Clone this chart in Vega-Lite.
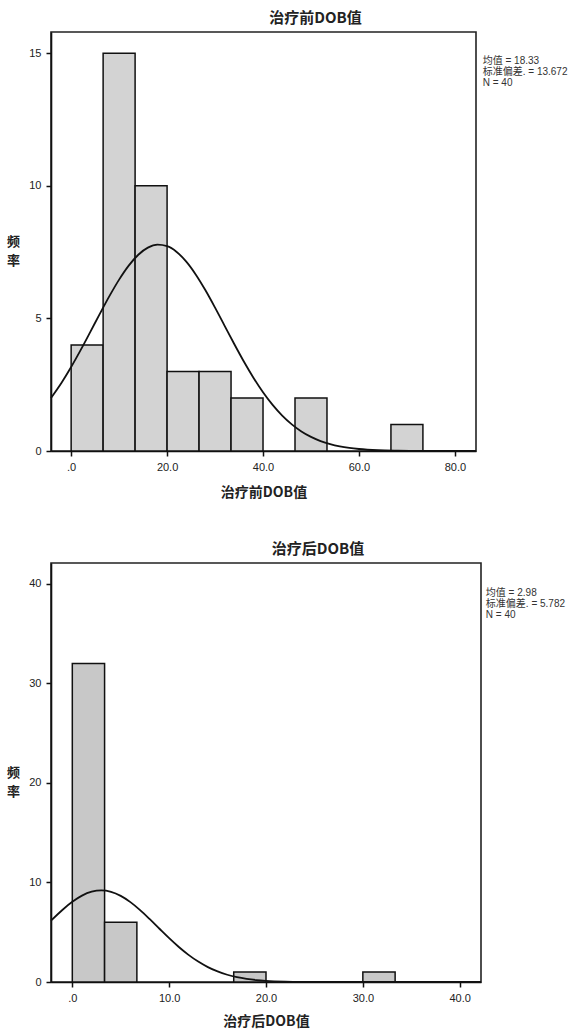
{
  "$schema": "https://vega.github.io/schema/vega-lite/v6.json",
  "background": "white",
  "padding": {"left": 5, "top": 10, "right": 0, "bottom": 0},
  "spacing": 41,
  "datasets": {
    "bars1": [
      {"bin_start": 0, "bin_end": 6.667, "count": 4},
      {"bin_start": 6.667, "bin_end": 13.333, "count": 15},
      {"bin_start": 13.333, "bin_end": 20, "count": 10},
      {"bin_start": 20, "bin_end": 26.667, "count": 3},
      {"bin_start": 26.667, "bin_end": 33.333, "count": 3},
      {"bin_start": 33.333, "bin_end": 40, "count": 2},
      {"bin_start": 46.667, "bin_end": 53.333, "count": 2},
      {"bin_start": 66.667, "bin_end": 73.333, "count": 1}
    ],
    "curve1": [
      {"x": -4.2, "y": 2.001}, {"x": -2, "y": 2.576}, {"x": 0, "y": 3.168}, {"x": 2, "y": 3.813},
      {"x": 4, "y": 4.493}, {"x": 6, "y": 5.181}, {"x": 8, "y": 5.849}, {"x": 10, "y": 6.463},
      {"x": 12, "y": 6.99}, {"x": 14, "y": 7.401}, {"x": 16, "y": 7.669}, {"x": 18, "y": 7.779},
      {"x": 20, "y": 7.723}, {"x": 22, "y": 7.506}, {"x": 24, "y": 7.14}, {"x": 26, "y": 6.648},
      {"x": 28, "y": 6.059}, {"x": 30, "y": 5.405}, {"x": 32, "y": 4.72}, {"x": 34, "y": 4.034},
      {"x": 36, "y": 3.375}, {"x": 38, "y": 2.765}, {"x": 40, "y": 2.216}, {"x": 42, "y": 1.738},
      {"x": 44, "y": 1.335}, {"x": 46, "y": 1.004}, {"x": 48, "y": 0.738}, {"x": 50, "y": 0.532},
      {"x": 52, "y": 0.375}, {"x": 54, "y": 0.259}, {"x": 56, "y": 0.175}, {"x": 58, "y": 0.116},
      {"x": 60, "y": 0.075}, {"x": 64, "y": 0.029}, {"x": 68, "y": 0.011}, {"x": 72, "y": 0.003},
      {"x": 76, "y": 0.001}, {"x": 80, "y": 0.0002}, {"x": 84.4, "y": 0}
    ],
    "stats1": [{"label": "均值 = 18.33\n标准偏差. = 13.672\nN = 40"}],
    "bars2": [
      {"bin_start": 0, "bin_end": 3.333, "count": 32},
      {"bin_start": 3.333, "bin_end": 6.667, "count": 6},
      {"bin_start": 16.667, "bin_end": 20, "count": 1},
      {"bin_start": 30, "bin_end": 33.333, "count": 1}
    ],
    "curve2": [
      {"x": -2.2, "y": 6.16}, {"x": -1, "y": 7.26}, {"x": 0, "y": 8.055}, {"x": 1, "y": 8.676},
      {"x": 2, "y": 9.069}, {"x": 3, "y": 9.2}, {"x": 4, "y": 9.058}, {"x": 5, "y": 8.655},
      {"x": 6, "y": 8.027}, {"x": 7, "y": 7.225}, {"x": 8, "y": 6.311}, {"x": 9, "y": 5.351},
      {"x": 10, "y": 4.403}, {"x": 11, "y": 3.516}, {"x": 12, "y": 2.725}, {"x": 13, "y": 2.05},
      {"x": 14, "y": 1.496}, {"x": 15, "y": 1.06}, {"x": 16, "y": 0.729}, {"x": 17, "y": 0.486},
      {"x": 18, "y": 0.315}, {"x": 19, "y": 0.198}, {"x": 20, "y": 0.121}, {"x": 22, "y": 0.041},
      {"x": 24, "y": 0.012}, {"x": 26, "y": 0.003}, {"x": 30, "y": 0.0001}, {"x": 35, "y": 0},
      {"x": 42.2, "y": 0}
    ],
    "stats2": [{"label": "均值 = 2.98\n标准偏差. = 5.782\nN = 40"}]
  },
  "vconcat": [
    {
      "width": 425,
      "height": 419,
      "title": {"text": "治疗前DOB值", "dx": 52, "offset": 6},
      "layer": [
        {
          "data": {"name": "bars1"},
          "mark": {"type": "rect", "fill": "#d3d3d3", "stroke": "#111", "strokeWidth": 1.5},
          "encoding": {
            "x": {"field": "bin_start", "type": "quantitative",
              "scale": {"domain": [-4.2, 84.4], "nice": false, "zero": false},
              "axis": {"values": [0, 20, 40, 60, 80], "labelExpr": "datum.value === 0 ? '.0' : format(datum.value, '.1f')", "title": "治疗前DOB值", "titlePadding": 13}},
            "x2": {"field": "bin_end"},
            "y": {"field": "count", "type": "quantitative",
              "scale": {"domain": [0, 15.8], "nice": false},
              "axis": {"values": [0, 5, 10, 15], "title": ["频", "率"], "titleAngle": 0, "titleAlign": "center", "titleBaseline": "middle", "titleX": -38, "titleY": 209, "titleFontSize": 13, "titleLineHeight": 19}},
            "y2": {"datum": 0}
          }
        },
        {
          "data": {"name": "curve1"},
          "mark": {"type": "line", "color": "#111", "strokeWidth": 1.8, "interpolate": "monotone"},
          "encoding": {
            "x": {"field": "x", "type": "quantitative"},
            "y": {"field": "y", "type": "quantitative"}
          }
        },
        {
          "data": {"name": "stats1"},
          "mark": {"type": "text", "align": "left", "baseline": "top", "lineBreak": "\n", "fontSize": 10, "lineHeight": 11, "font": "Liberation Sans, Noto Sans CJK SC", "color": "#333"},
          "encoding": {
            "x": {"datum": 85.8, "type": "quantitative"},
            "y": {"datum": 14.9, "type": "quantitative"},
            "text": {"field": "label"}
          }
        }
      ]
    },
    {
      "width": 430,
      "height": 419,
      "title": {"text": "治疗后DOB值", "dx": 52, "offset": 6},
      "layer": [
        {
          "data": {"name": "bars2"},
          "mark": {"type": "rect", "fill": "#c8c8c8", "stroke": "#111", "strokeWidth": 1.5},
          "encoding": {
            "x": {"field": "bin_start", "type": "quantitative",
              "scale": {"domain": [-2.2, 42.2], "nice": false, "zero": false},
              "axis": {"values": [0, 10, 20, 30, 40], "labelExpr": "datum.value === 0 ? '.0' : format(datum.value, '.1f')", "title": "治疗后DOB值", "titlePadding": 11}},
            "x2": {"field": "bin_end"},
            "y": {"field": "count", "type": "quantitative",
              "scale": {"domain": [0, 42.1], "nice": false},
              "axis": {"values": [0, 10, 20, 30, 40], "title": ["频", "率"], "titleAngle": 0, "titleAlign": "center", "titleBaseline": "middle", "titleX": -38, "titleY": 209, "titleFontSize": 13, "titleLineHeight": 19}},
            "y2": {"datum": 0}
          }
        },
        {
          "data": {"name": "curve2"},
          "mark": {"type": "line", "color": "#111", "strokeWidth": 1.8, "interpolate": "monotone"},
          "encoding": {
            "x": {"field": "x", "type": "quantitative"},
            "y": {"field": "y", "type": "quantitative"}
          }
        },
        {
          "data": {"name": "stats2"},
          "mark": {"type": "text", "align": "left", "baseline": "top", "lineBreak": "\n", "fontSize": 10, "lineHeight": 11, "font": "Liberation Sans, Noto Sans CJK SC", "color": "#333"},
          "encoding": {
            "x": {"datum": 42.7, "type": "quantitative"},
            "y": {"datum": 39.6, "type": "quantitative"},
            "text": {"field": "label"}
          }
        }
      ]
    }
  ],
  "config": {
    "view": {"stroke": "#222", "strokeWidth": 1.6},
    "axis": {"grid": false, "domainColor": "#111", "domainWidth": 1.6, "tickColor": "#111", "tickWidth": 1.5, "tickSize": 5, "labelFont": "Liberation Sans", "labelFontSize": 11, "labelColor": "#222", "labelPadding": 5, "titleFont": "Noto Sans CJK SC", "titleFontSize": 14, "titleFontWeight": "bold", "titleColor": "#222"},
    "title": {"font": "Noto Sans CJK SC", "fontSize": 15, "fontWeight": "bold", "color": "#222", "anchor": "middle"}
  }
}
